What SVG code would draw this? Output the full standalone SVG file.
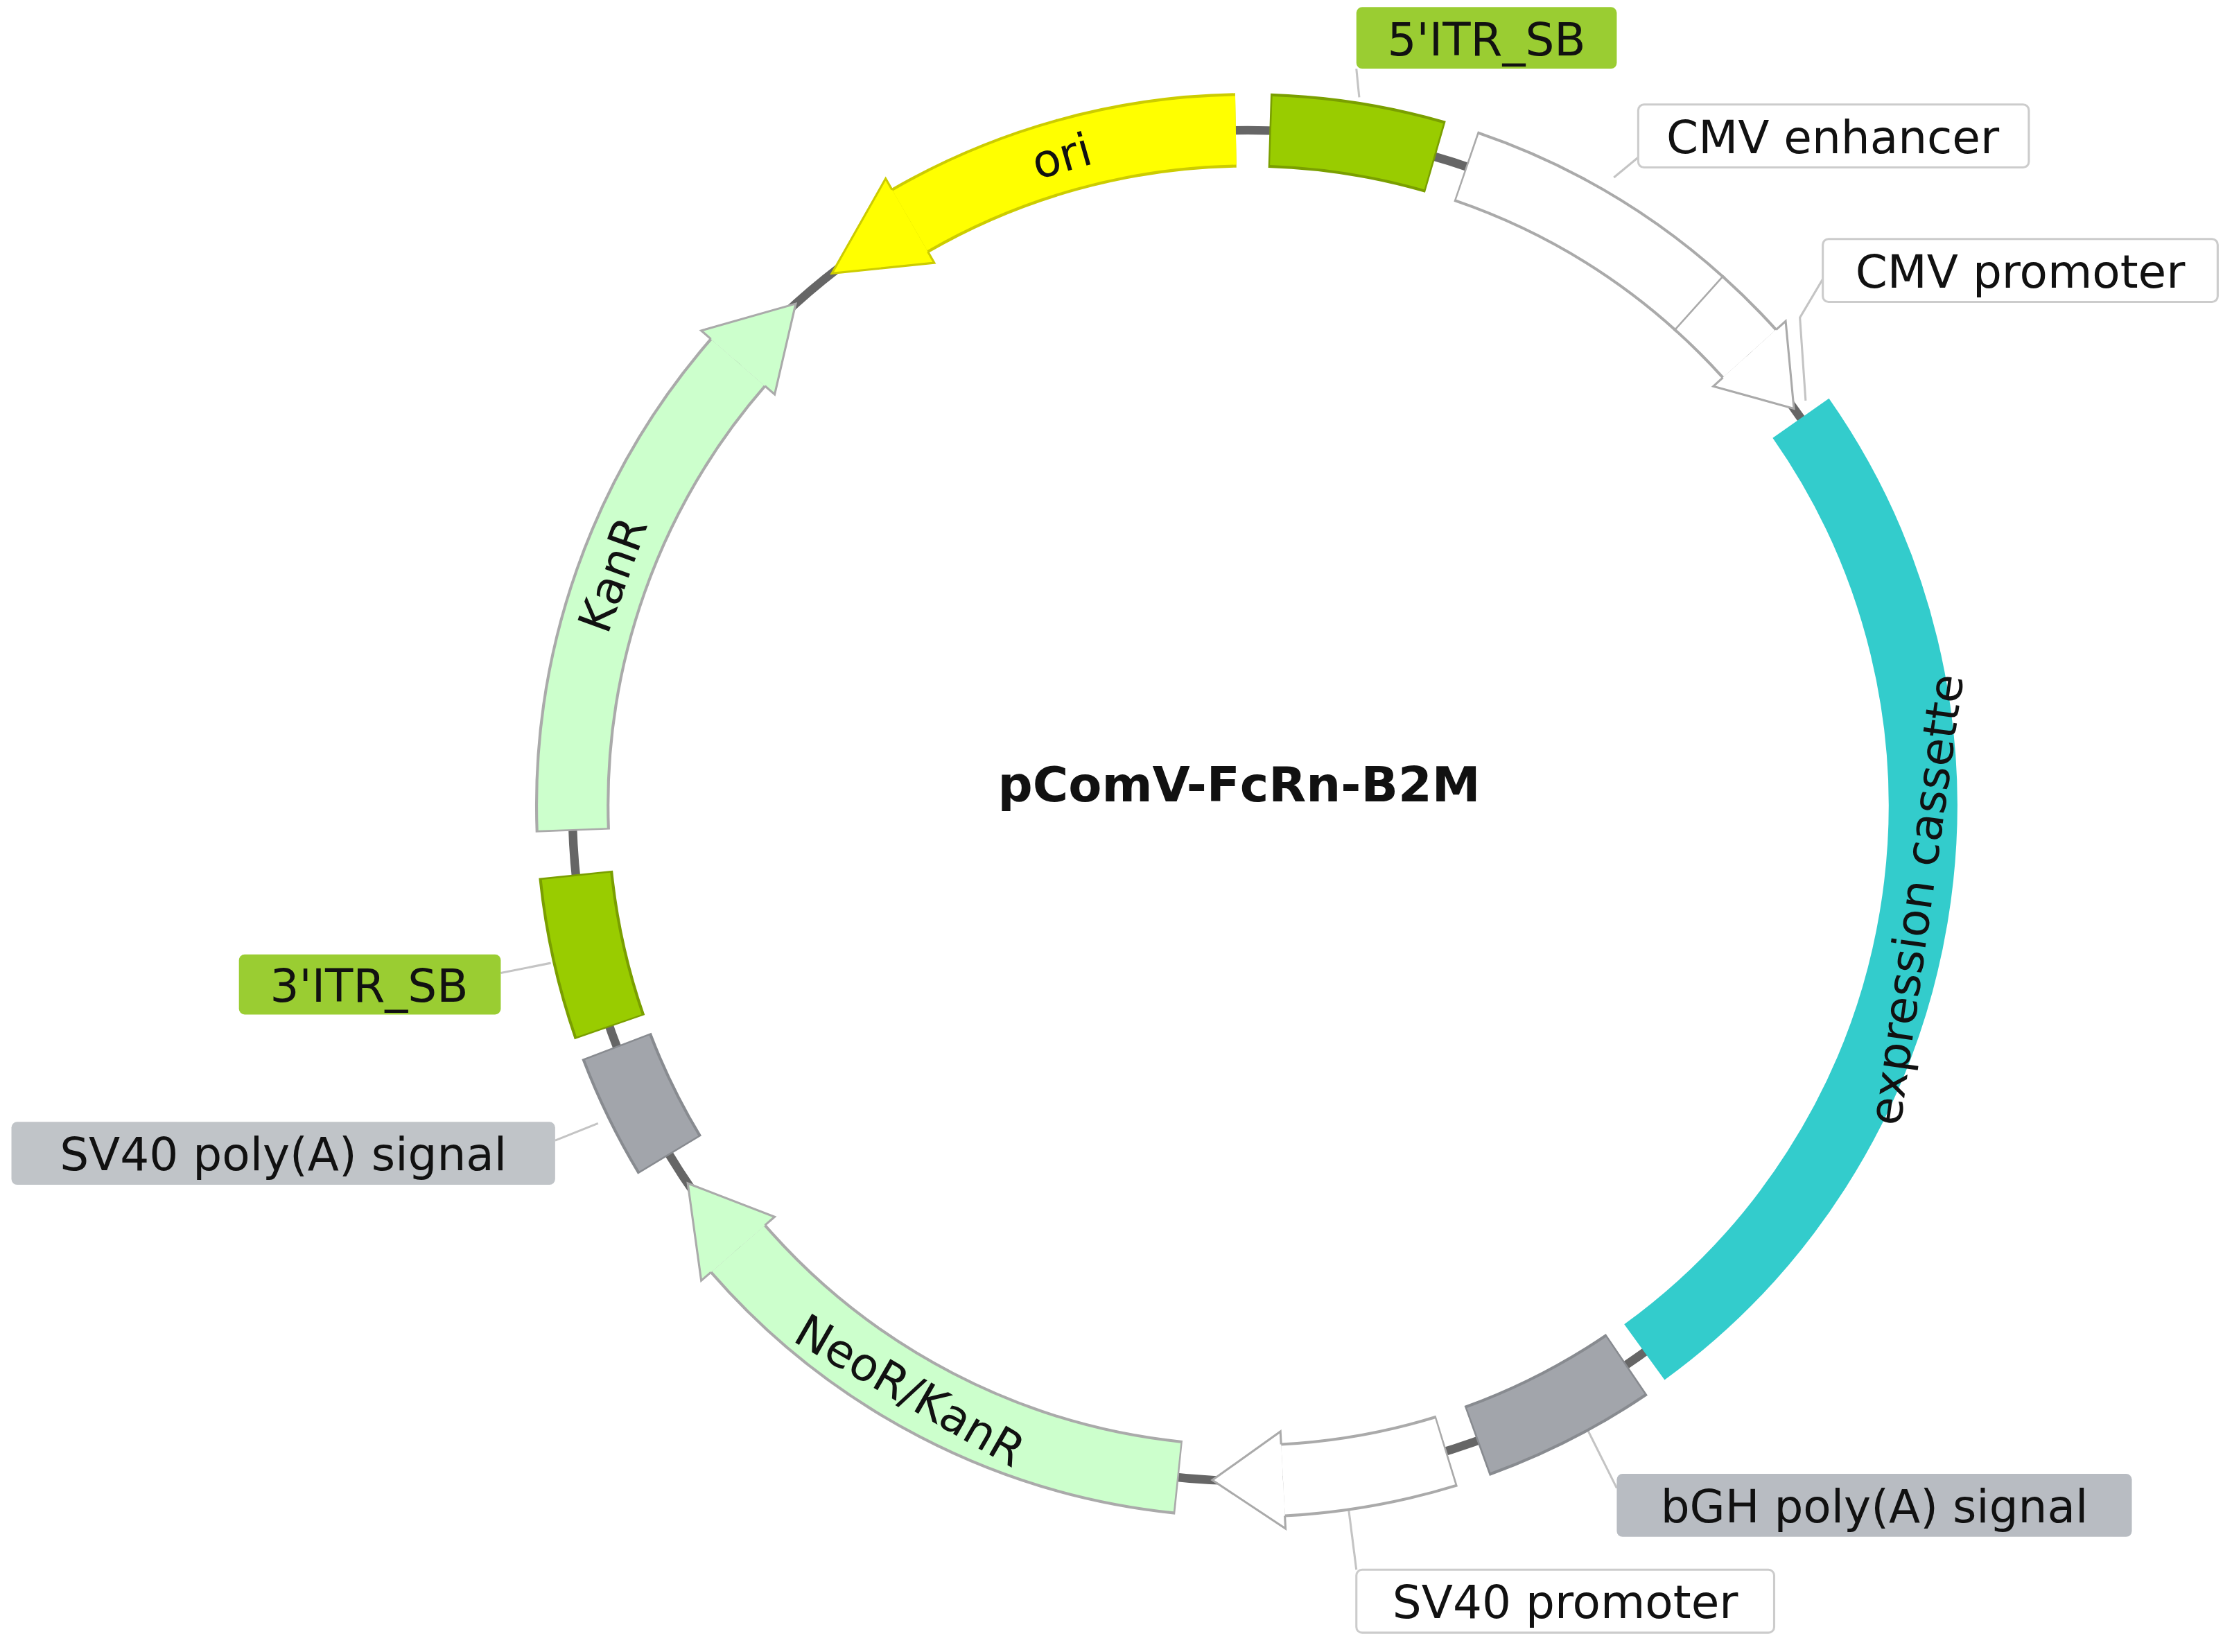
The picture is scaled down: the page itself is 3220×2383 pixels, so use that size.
<svg xmlns="http://www.w3.org/2000/svg" width="3220" height="2383" viewBox="0 0 3220 2383">
<style>
.lbl{font-family:"DejaVu Sans","Verdana",sans-serif;font-size:32px;fill:#111;text-anchor:middle}
.ft{font-family:"DejaVu Sans","Verdana",sans-serif;font-size:32px;fill:#111;text-anchor:middle;dominant-baseline:central}
.ld{stroke:#c4c4c4;stroke-width:1.5;fill:none}
.o{fill:none;stroke-width:52}
.f{fill:none;stroke-width:48}
</style>
<rect width="3220" height="2383" fill="#fff"/>
<g transform="scale(2.0641)">
<g id="connectors">
<polyline class="ld" points="948,48 950,68"/>
<polyline class="ld" points="1145,110 1128,124"/>
<polyline class="ld" points="1274,195 1258,222 1262,280"/>
<polyline class="ld" points="1130,1040 1110,1000"/>
<polyline class="ld" points="948,1097 942,1050"/>
<polyline class="ld" points="388,797 418,785"/>
<polyline class="ld" points="350,680 385,673"/>
</g>
<g transform="translate(872,563)">
<circle id="backbone" r="472" fill="none" stroke="#666" stroke-width="6"/>
<g id="itr5">
<circle r="472" class="o" stroke="#7a9f00" stroke-dasharray="117.8 4000" transform="rotate(-88.15)"/>
<circle r="472" class="f" stroke="#99cc00" stroke-dasharray="115.3 4000" transform="rotate(-88)"/>
</g>
<g id="cmvenh">
<circle r="472" class="o" stroke="#aaa" stroke-dasharray="191.9 4000" transform="rotate(-71.15)"/>
<circle r="472" class="f" stroke="#fff" stroke-dasharray="189.5 4000" transform="rotate(-71)"/>
</g>
<g id="cmvprom">
<circle r="472" class="o" stroke="#aaa" stroke-dasharray="50.7 4000" transform="rotate(-48.15)"/>
<circle r="472" class="f" stroke="#fff" stroke-dasharray="49.4 4000" transform="rotate(-48)"/>
<g transform="rotate(48)"><polygon points="0,-506 49.3,-469.4 0,-438" fill="#fff"/><polyline points="0,-497 0,-506 49.3,-469.4 0,-438 0,-447" fill="none" stroke="#aaa" stroke-width="1.5"/></g>
</g>
<g id="expr">
<circle r="472" class="f" stroke="#33cccc" stroke-width="50" stroke-dasharray="733.2 4000" transform="rotate(-35)"/>
</g>
<g id="bgh">
<circle r="472" class="o" stroke="#888b90" stroke-dasharray="117.8 4000" transform="rotate(55.85)"/>
<circle r="472" class="f" stroke="#a2a5ab" stroke-dasharray="115.3 4000" transform="rotate(56)"/>
</g>
<g id="sv40prom">
<circle r="472" class="o" stroke="#aaa" stroke-dasharray="116.6 4000" transform="rotate(72.85)"/>
<circle r="472" class="f" stroke="#fff" stroke-dasharray="115.3 4000" transform="rotate(73)"/>
<g transform="rotate(177)"><polygon points="0,-506 49.3,-469.4 0,-438" fill="#fff"/><polyline points="0,-497 0,-506 49.3,-469.4 0,-438 0,-447" fill="none" stroke="#aaa" stroke-width="1.5"/></g>
</g>
<g id="neor">
<circle r="472" class="o" stroke="#aaa" stroke-dasharray="355.5 4000" transform="rotate(95.85)"/>
<circle r="472" class="f" stroke="#ccffcc" stroke-dasharray="354.2 4000" transform="rotate(96)"/>
<g transform="rotate(229)"><polygon points="0,-506 57.5,-468.5 0,-438" fill="#ccffcc"/><polyline points="0,-497 0,-506 57.5,-468.5 0,-438 0,-447" fill="none" stroke="#aaa" stroke-width="1.5"/></g>
<text class="ft" transform="translate(-236,409) rotate(30)">NeoR/KanR</text>
</g>
<g id="sv40pa">
<circle r="472" class="o" stroke="#888b90" stroke-dasharray="84.8 4000" transform="rotate(148.85)"/>
<circle r="472" class="f" stroke="#a2a5ab" stroke-dasharray="82.4 4000" transform="rotate(149)"/>
</g>
<g id="itr3">
<circle r="472" class="o" stroke="#7a9f00" stroke-dasharray="109.6 4000" transform="rotate(160.85)"/>
<circle r="472" class="f" stroke="#99cc00" stroke-dasharray="107.1 4000" transform="rotate(161)"/>
</g>
<g id="kanr">
<circle r="472" class="o" stroke="#aaa" stroke-dasharray="355.5 4000" transform="rotate(177.85)"/>
<circle r="472" class="f" stroke="#ccffcc" stroke-dasharray="354.2 4000" transform="rotate(178)"/>
<g transform="rotate(311)"><polygon points="0,-506 57.5,-468.5 0,-438" fill="#ccffcc"/><polyline points="0,-497 0,-506 57.5,-468.5 0,-438 0,-447" fill="none" stroke="#aaa" stroke-width="1.5"/></g>
<text class="ft" transform="translate(-443.5,-161.4) rotate(-70)">KanR</text>
</g>
<g id="ori">
<circle r="472" class="o" stroke="#cccc00" stroke-dasharray="240.1 4000" transform="rotate(239.85)"/>
<circle r="472" class="f" stroke="#ffff00" stroke-dasharray="238.9 4000" transform="rotate(240)"/>
<g transform="rotate(330)"><polygon points="0,-506 -65.7,-467.4 0,-438" fill="#ffff00"/><polyline points="0,-497 0,-506 -65.7,-467.4 0,-438 0,-447" fill="none" stroke="#cccc00" stroke-width="1.5"/></g>
<text class="ft" transform="translate(-130,-453.7) rotate(-16)">ori</text>
</g>
<text class="ft" transform="translate(467.4,65.7) rotate(-82)">expression cassette</text>
</g>
<text x="866" y="560" font-family="DejaVu Sans,Verdana,sans-serif" font-size="34" font-weight="bold" text-anchor="middle" fill="#111">pComV-FcRn-B2M</text>
<g id="lbl-itr5"><rect x="948" y="5" width="182" height="43" rx="4" fill="#9acd32"/><text class="lbl" x="1039" y="39">5'ITR_SB</text></g>
<g id="lbl-cmvenh"><rect x="1145" y="73" width="273" height="44" rx="4" fill="#fff" stroke="#ccc" stroke-width="1.5"/><text class="lbl" x="1281" y="107">CMV enhancer</text></g>
<g id="lbl-cmvprom"><rect x="1274" y="167" width="276" height="44" rx="4" fill="#fff" stroke="#ccc" stroke-width="1.5"/><text class="lbl" x="1412" y="201">CMV promoter</text></g>
<g id="lbl-bgh"><rect x="1130" y="1030" width="360" height="44" rx="4" fill="#b8bcc2"/><text class="lbl" x="1310" y="1064">bGH poly(A) signal</text></g>
<g id="lbl-sv40prom"><rect x="948" y="1097" width="292" height="44" rx="4" fill="#fff" stroke="#ccc" stroke-width="1.5"/><text class="lbl" x="1094" y="1131">SV40 promoter</text></g>
<g id="lbl-sv40pa"><rect x="8" y="784" width="380" height="44" rx="4" fill="#c0c4c8"/><text class="lbl" x="198" y="818">SV40 poly(A) signal</text></g>
<g id="lbl-itr3"><rect x="167" y="667" width="183" height="42" rx="4" fill="#9acd32"/><text class="lbl" x="258" y="700">3'ITR_SB</text></g>
</g>
</svg>
